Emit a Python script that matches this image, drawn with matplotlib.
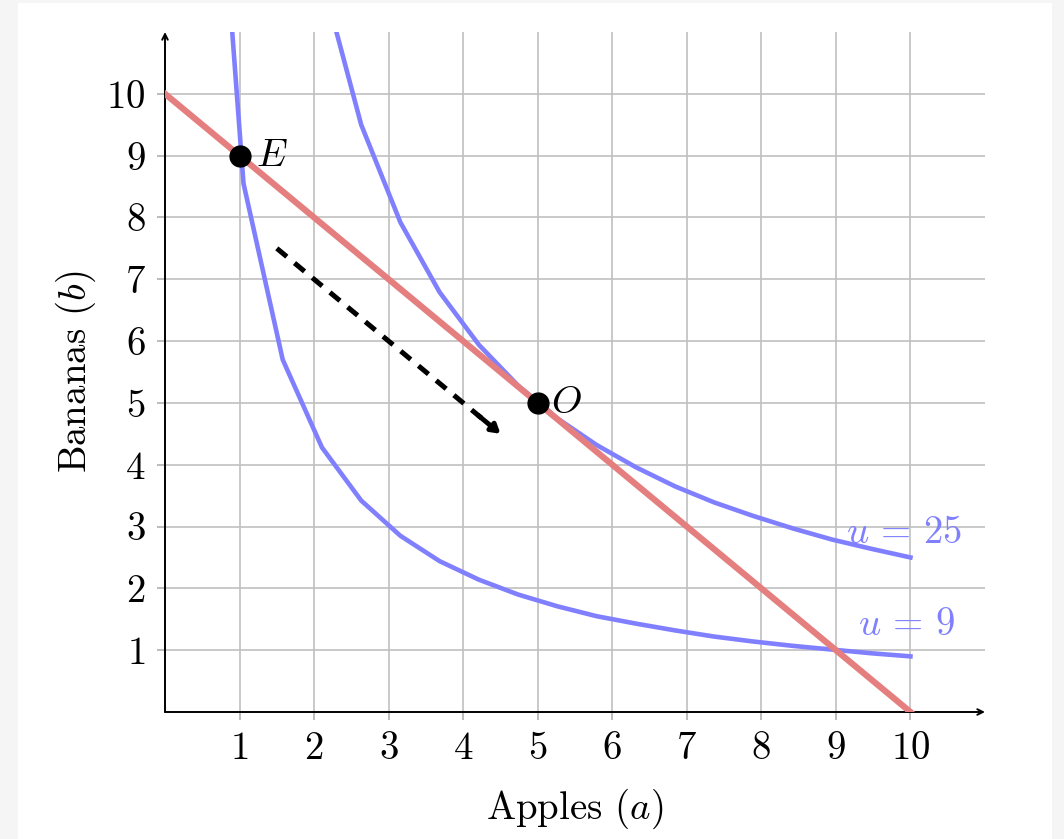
import matplotlib.pyplot as plt

plt.rcParams['font.family'] = 'serif'
plt.rcParams['font.serif'] = ['cmr10', 'DejaVu Serif']
plt.rcParams['mathtext.fontset'] = 'cm'
plt.rcParams['axes.formatter.use_mathtext'] = True

a_samples = [0.526, 1.053, 1.579, 2.105, 2.632, 3.158, 3.684, 4.211, 4.737, 5.263,
             5.789, 6.316, 6.842, 7.368, 7.895, 8.421, 8.947, 9.474, 10.0]
b_u9 = [17.1, 8.55, 5.7, 4.28, 3.42, 2.85, 2.44, 2.14, 1.9, 1.71,
        1.55, 1.43, 1.32, 1.22, 1.14, 1.07, 1.01, 0.95, 0.9]
b_u25 = [47.5, 23.75, 15.83, 11.88, 9.5, 7.92, 6.79, 5.94, 5.28, 4.75,
         4.32, 3.96, 3.65, 3.39, 3.17, 2.97, 2.79, 2.64, 2.5]

# budget line
budget_a = [0, 10]
budget_b = [10, 0]

# points
point_names = ['E', 'O']
point_a = [1, 5]
point_b = [9, 5]

# shift arrow
arrow_start = (1.5, 7.5)
arrow_end = (4.5, 4.5)

ticks = [1, 2, 3, 4, 5, 6, 7, 8, 9, 10]

blue = '#8080ff'
red = '#e57f7f'
fs = 28

fig = plt.figure(figsize=(10.64, 8.39), dpi=100, facecolor='#f5f5f5')
# white panel
fig.patches.append(plt.Rectangle((18 / 1064, 0), (1052 - 18) / 1064, 1 - 3 / 839,
                                 transform=fig.transFigure, facecolor='white',
                                 edgecolor='none', zorder=-10))
ax = fig.add_axes([165 / 1064, 1 - 712 / 839, 820 / 1064, 680 / 839])
ax.set_facecolor('none')
ax.set_xlim(0, 11)
ax.set_ylim(0, 11)

ax.set_xticks(ticks)
ax.set_yticks(ticks)
ax.grid(True, color='#c0c0c0', linewidth=1.2)
ax.tick_params(length=6, width=1.2, color='#b0b0b0', labelsize=fs, pad=8)
for s in ax.spines.values():
    s.set_visible(False)

# axis arrows
ax.annotate('', xy=(11, 0), xytext=(0, 0),
            arrowprops=dict(arrowstyle='->', lw=1.4, color='black', shrinkA=0, shrinkB=0))
ax.annotate('', xy=(0, 11), xytext=(0, 0),
            arrowprops=dict(arrowstyle='->', lw=1.4, color='black', shrinkA=0, shrinkB=0))

ax.plot(a_samples, b_u9, color=blue, lw=3.3, zorder=3)
ax.plot(a_samples, b_u25, color=blue, lw=3.3, zorder=3)
ax.plot(budget_a, budget_b, color=red, lw=4.5, zorder=4)

ax.plot(point_a, point_b, 'o', color='black', markersize=15, zorder=6)
ax.text(point_a[0] + 0.22, point_b[0], '$' + point_names[0] + '$', fontsize=fs,
        va='center', ha='left')
ax.text(point_a[1] + 0.18, point_b[1], '$' + point_names[1] + '$', fontsize=fs,
        va='center', ha='left')

ax.text(9.92, 2.9, r'$u \,=\, 25$', fontsize=fs, color=blue, ha='center', va='center')
ax.text(9.95, 1.4, r'$u \,=\, 9$', fontsize=fs, color=blue, ha='center', va='center')

# dashed arrow
ax.plot([arrow_start[0], arrow_end[0] - 0.1], [arrow_start[1], arrow_end[1] + 0.1],
        color='black', lw=3.6, ls=(0, (2.6, 2.0)), zorder=5)
ax.annotate('', xy=arrow_end, xytext=(arrow_end[0] - 0.3, arrow_end[1] + 0.3),
            arrowprops=dict(arrowstyle='-|>,head_length=0.5,head_width=0.3', lw=3.5,
                            color='black', shrinkA=0, shrinkB=0), zorder=5)

ax.set_xlabel('Apples ($a$)', fontsize=fs, labelpad=14)
ax.set_ylabel('Bananas ($b$)', fontsize=fs, labelpad=6)

fig.savefig('out.png', dpi=100, facecolor=fig.get_facecolor())
